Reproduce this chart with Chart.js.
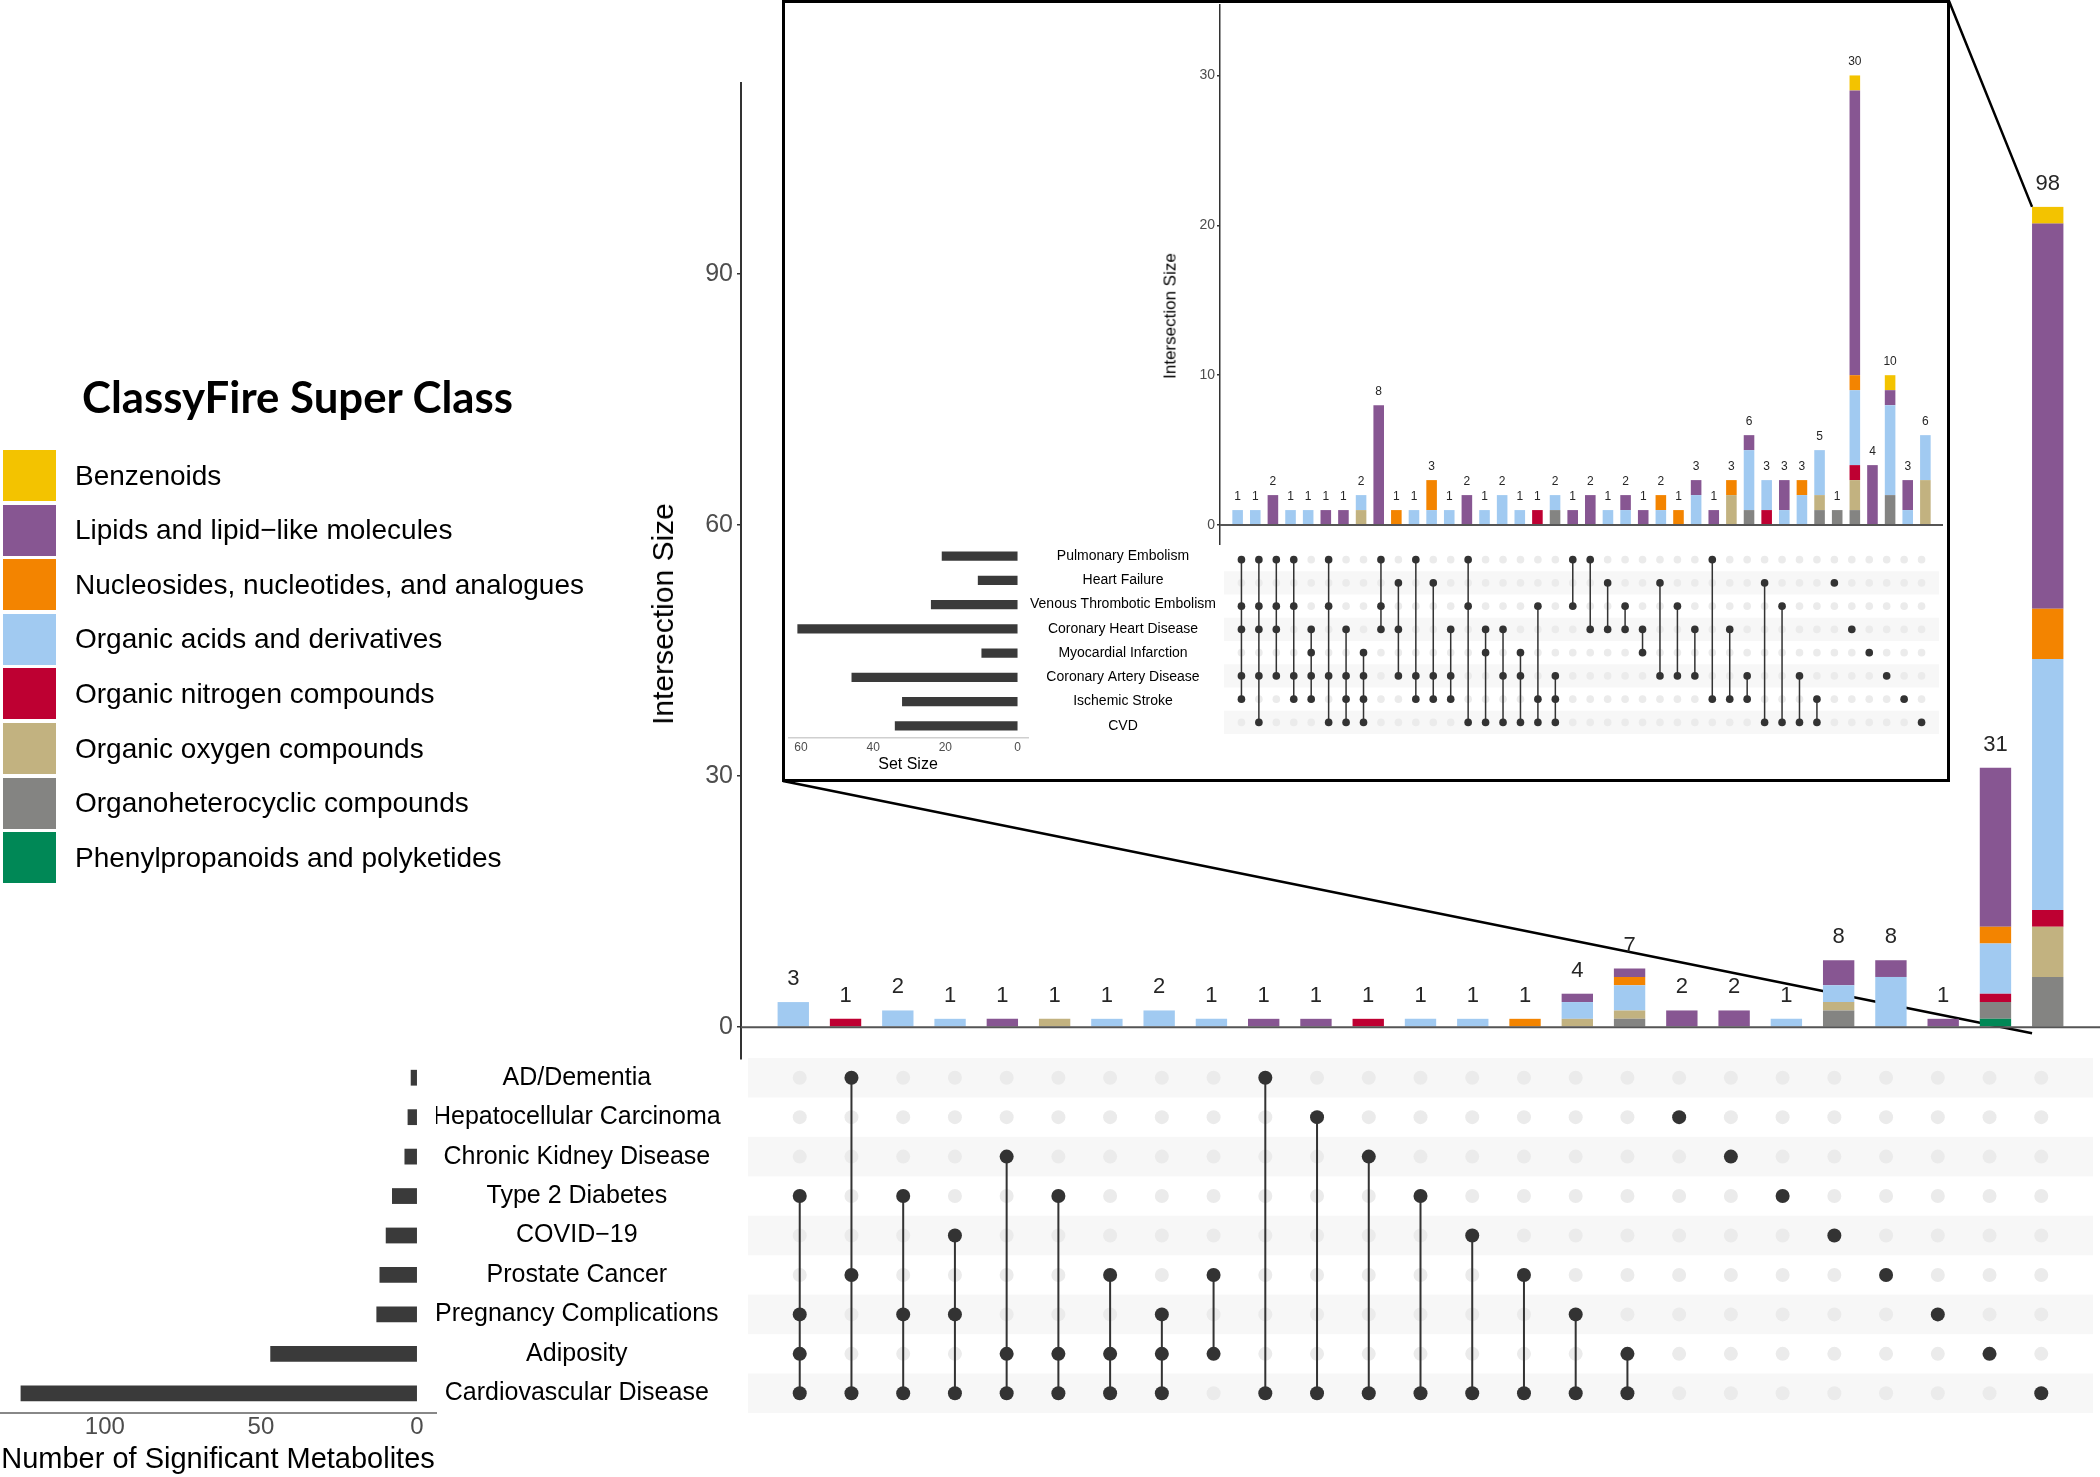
<!DOCTYPE html>
<html>
<head>
<meta charset="utf-8">
<title>Significant metabolites - UpSet</title>
<script src="https://cdn.jsdelivr.net/npm/chart.js@4.4.1/dist/chart.umd.min.js"></script>
<style>
  html, body { margin: 0; padding: 0; background: #fff; }
  body { width: 2100px; height: 1477px; position: relative; overflow: hidden; font-family: 'Liberation Sans', Arial, sans-serif; }
  canvas { position: absolute; }
  #legendTitle { position: absolute; left: 82px; top: 397px; transform: translateY(-50%); font-family: Lato, 'Liberation Sans', sans-serif; font-weight: 700; font-size: 42px; line-height: 1; white-space: nowrap; color: #000; }
  .legend-item { position: absolute; left: 3px; height: 51px; display: flex; align-items: center; }
  .swatch { width: 53px; height: 51px; flex: none; }
  .legend-item span { margin-left: 19px; font-size: 28px; color: #000; white-space: nowrap; }
  .axis-title { position: absolute; transform: translate(-50%, -50%) rotate(-90deg); white-space: nowrap; color: #000; line-height: 1; z-index: 3; }
  #insetBox { position: absolute; left: 782px; top: 0; width: 1168px; height: 782px; border: 3px solid #000; box-sizing: border-box; background: #fff; z-index: 1; }
  .inset { z-index: 2; }
</style>
</head>
<body>

<canvas id="mainBars" width="2100" height="1080" style="left:0;top:0;width:2100px;height:1080px"></canvas>
<canvas id="mainMatrix" width="1359" height="400" style="left:741px;top:1040px;width:1359px;height:400px"></canvas>
<canvas id="mainSizes" width="741" height="437" style="left:0;top:1040px;width:741px;height:437px"></canvas>

<div id="legendTitle">ClassyFire Super Class</div>
<div id="legend"></div>
<div class="axis-title" style="left:663px;top:614px;font-size:30px">Intersection Size</div>

<div id="insetBox"></div>
<canvas id="insetBars" class="inset" width="843" height="545" style="left:1100px;top:0;width:843px;height:545px"></canvas>
<canvas id="insetMatrix" class="inset" width="723" height="194" style="left:1220px;top:544px;width:723px;height:194px"></canvas>
<canvas id="insetSizes" class="inset" width="432" height="248" style="left:788px;top:530px;width:432px;height:248px"></canvas>
<div class="axis-title" style="left:1170px;top:316px;font-size:17px">Intersection Size</div>

<script>
// Super classes, bottom of the stack first
const classNames = [
  'Phenylpropanoids and polyketides',
  'Organoheterocyclic compounds',
  'Organic oxygen compounds',
  'Organic nitrogen compounds',
  'Organic acids and derivatives',
  'Nucleosides, nucleotides, and analogues',
  'Lipids and lipid\u2212like molecules',
  'Benzenoids'
];
const classColors = ['#008856', '#848482', '#C2B280', '#BE0032', '#A1CAF1', '#F38400', '#875692', '#F3C300'];

// Main plot: 25 intersections, metabolite counts per super class
const mainPhenyl   = [0,0,0,0,0,0,0,0,0,0,0,0,0,0,0,0,0,0,0,0,0,0,0,1,0];
const mainHetero   = [0,0,0,0,0,0,0,0,0,0,0,0,0,0,0,0,1,0,0,0,2,0,0,2,6];
const mainOxygen   = [0,0,0,0,0,1,0,0,0,0,0,0,0,0,0,1,1,0,0,0,1,0,0,0,6];
const mainNitrogen = [0,1,0,0,0,0,0,0,0,0,0,1,0,0,0,0,0,0,0,0,0,0,0,1,2];
const mainAcids    = [3,0,2,1,0,0,1,2,1,0,0,0,1,1,0,2,3,0,0,1,2,6,0,6,30];
const mainNucleo   = [0,0,0,0,0,0,0,0,0,0,0,0,0,0,1,0,1,0,0,0,0,0,0,2,6];
const mainLipids   = [0,0,0,0,1,0,0,0,0,1,1,0,0,0,0,1,1,2,2,0,3,2,1,19,46];
const mainBenz     = [0,0,0,0,0,0,0,0,0,0,0,0,0,0,0,0,0,0,0,0,0,0,0,0,2];

const mainSets = ['AD/Dementia', 'Hepatocellular Carcinoma', 'Chronic Kidney Disease', 'Type 2 Diabetes',
  'COVID\u221219', 'Prostate Cancer', 'Pregnancy Complications', 'Adiposity', 'Cardiovascular Disease'];
const mainSetSizes = [2, 3, 4, 8, 10, 12, 13, 47, 127];
// which sets (row index) take part in each intersection
const mainMembers = [
  [3,6,7,8], [0,5,8], [3,6,8], [4,6,8], [2,7,8], [3,7,8], [5,7,8], [6,7,8], [5,7],
  [0,8], [1,8], [2,8], [3,8], [4,8], [5,8], [6,8], [7,8],
  [1], [2], [3], [4], [5], [6], [7], [8]
];
const mainYTicks = [0, 30, 60, 90];
const mainSizeTicks = [0, 50, 100];

// Inset: cardiovascular sub-outcomes, 40 intersections
const insetPhenyl   = [0,0,0,0,0,0,0,0,0,0, 0,0,0,0,0,0,0,0,0,0, 0,0,0,0,0,0,0,0,0,0, 0,0,0,0,0,0,0,0,0,0];
const insetHetero   = [0,0,0,0,0,0,0,0,0,0, 0,0,0,0,0,0,0,0,1,0, 0,0,0,0,0,0,0,0,0,1, 0,0,0,1,1,1,0,2,0,0];
const insetOxygen   = [0,0,0,0,0,0,0,1,0,0, 0,0,0,0,0,0,0,0,0,0, 0,0,0,0,0,0,0,0,2,0, 0,0,0,1,0,2,0,0,0,3];
const insetNitrogen = [0,0,0,0,0,0,0,0,0,0, 0,0,0,0,0,0,0,1,0,0, 0,0,0,0,0,0,0,0,0,0, 1,0,0,0,0,1,0,0,0,0];
const insetAcids    = [1,1,0,1,1,0,0,1,0,0, 1,1,1,0,1,2,1,0,1,0, 0,1,1,0,1,0,2,0,0,4, 2,1,2,3,0,5,0,6,1,3];
const insetNucleo   = [0,0,0,0,0,0,0,0,0,1, 0,2,0,0,0,0,0,0,0,0, 0,0,0,0,1,1,0,0,1,0, 0,0,1,0,0,1,0,0,0,0];
const insetLipids   = [0,0,2,0,0,1,1,0,8,0, 0,0,0,2,0,0,0,0,0,1, 2,0,1,1,0,0,1,1,0,1, 0,2,0,0,0,19,4,1,2,0];
const insetBenz     = [0,0,0,0,0,0,0,0,0,0, 0,0,0,0,0,0,0,0,0,0, 0,0,0,0,0,0,0,0,0,0, 0,0,0,0,0,1,0,1,0,0];

const insetSets = ['Pulmonary Embolism', 'Heart Failure', 'Venous Thrombotic Embolism', 'Coronary Heart Disease',
  'Myocardial Infarction', 'Coronary Artery Disease', 'Ischemic Stroke', 'CVD'];
const insetSetSizes = [21, 11, 24, 61, 10, 46, 32, 34];
const insetMembers = [
  [0,2,3,5,6], [0,2,3,5,7], [0,2,3,5], [0,2,5,6], [3,4,5,6], [0,2,5,7], [3,5,6,7], [4,5,6,7],
  [0,2,3], [1,3,5], [0,5,6], [1,5,6], [3,5,6], [0,2,7], [3,4,7], [3,5,7], [4,5,7], [2,6,7], [5,6,7],
  [0,2], [0,3], [1,3], [2,3], [3,4], [1,5], [2,5], [3,5], [0,6], [3,6], [5,6], [1,7], [2,7], [5,7], [6,7],
  [1], [3], [4], [5], [6], [7]
];
const insetYTicks = [0, 10, 20, 30];
const insetSizeTicks = [0, 20, 40, 60];

Chart.defaults.font.family = "'Liberation Sans', Arial, Helvetica, sans-serif";
Chart.defaults.color = '#4d4d4d';
const FONT = "'Liberation Sans', Arial, Helvetica, sans-serif";

// Legend (top of the stack first)
const legend = document.getElementById('legend');
for (let k = classNames.length - 1, row = 0; k >= 0; k--, row++) {
  const item = document.createElement('div');
  item.className = 'legend-item';
  item.style.top = (450 + row * 54.6) + 'px';
  item.innerHTML = '<div class="swatch" style="background:' + classColors[k] + '"></div><span>' + classNames[k] + '</span>';
  legend.appendChild(item);
}
// fit the legend title to its width in the figure
const lt = document.getElementById('legendTitle');
lt.style.fontSize = (42 * 431 / lt.getBoundingClientRect().width) + 'px';

function totals(series) {
  return series[0].map((_, i) => series.reduce((s, vals) => s + vals[i], 0));
}

function stackedDatasets(series) {
  return series.map((values, k) => ({
    label: classNames[k],
    data: values.map((v, i) => ({ x: i, y: v })),
    backgroundColor: classColors[k],
    borderWidth: 0,
    barPercentage: 0.6,
    categoryPercentage: 1
  }));
}

// scale sizes are fixed so the three panels line up
function fixWidth(w) {
  return s => { s.width = w; s.paddingTop = s.paddingBottom = s.paddingLeft = s.paddingRight = 0; };
}
function fixHeight(h) {
  return s => { s.height = h; s.paddingTop = s.paddingBottom = s.paddingLeft = s.paddingRight = 0; };
}
function setTicks(list) {
  return s => { s.ticks = list.map(v => ({ value: v })); };
}

function zeroLine(color, width) {
  return {
    id: 'zeroLine',
    afterDatasetsDraw(chart) {
      const { ctx, chartArea: a, scales: { y } } = chart;
      const y0 = y.getPixelForValue(0);
      ctx.save();
      ctx.strokeStyle = color;
      ctx.lineWidth = width;
      ctx.beginPath();
      ctx.moveTo(a.left, y0);
      ctx.lineTo(a.right, y0);
      ctx.stroke();
      ctx.restore();
    }
  };
}

function countLabels(sums, size, gap) {
  return {
    id: 'countLabels',
    afterDatasetsDraw(chart) {
      const { ctx, scales: { x, y } } = chart;
      ctx.save();
      ctx.font = size + 'px ' + FONT;
      ctx.fillStyle = '#262626';
      ctx.textAlign = 'center';
      ctx.textBaseline = 'alphabetic';
      sums.forEach((t, i) => ctx.fillText(String(t), x.getPixelForValue(i), y.getPixelForValue(t) - gap));
      ctx.restore();
    }
  };
}

function barChart(id, series, sums, cfg) {
  return new Chart(document.getElementById(id), {
    type: 'bar',
    data: { datasets: stackedDatasets(series) },
    options: {
      responsive: false, animation: false, events: [],
      layout: { padding: cfg.padding },
      plugins: { legend: { display: false }, tooltip: { enabled: false } },
      scales: {
        x: { type: 'linear', min: -1, max: sums.length, offset: false, stacked: true, display: false },
        y: {
          stacked: true, min: cfg.yMin, max: cfg.yMax,
          afterFit: fixWidth(cfg.axisWidth),
          afterBuildTicks: setTicks(cfg.ticks),
          grid: { drawOnChartArea: false, tickLength: cfg.tickLength, color: '#333', lineWidth: 1.5 },
          border: { color: '#333', width: cfg.axisLine },
          ticks: { padding: cfg.tickPadding, color: '#4d4d4d', font: { size: cfg.tickFont } }
        }
      }
    },
    plugins: (cfg.extra || []).concat([zeroLine('#555', 2), countLabels(sums, cfg.labelFont, cfg.labelGap)])
  });
}

function matrixChart(id, nCols, nRows, members, shaded, dotR, lineW, pad) {
  // dark dots and connecting lines, one dataset per intersection
  const datasets = members.map((rows, c) => ({
    data: rows.map(r => ({ x: c, y: r })),
    showLine: true, borderColor: '#333', borderWidth: lineW,
    pointRadius: dotR, pointBackgroundColor: '#333', pointBorderWidth: 0
  }));
  // light dots for every cell; the last dataset is painted first (underneath)
  const cells = [];
  for (let c = 0; c < nCols; c++) for (let r = 0; r < nRows; r++) cells.push({ x: c, y: r });
  datasets.push({ data: cells, showLine: false, pointRadius: dotR, pointBackgroundColor: '#ebebeb', pointBorderWidth: 0 });
  return new Chart(document.getElementById(id), {
    type: 'scatter',
    data: { datasets },
    options: {
      responsive: false, animation: false, events: [],
      layout: { padding: pad },
      plugins: { legend: { display: false }, tooltip: { enabled: false } },
      scales: {
        x: { type: 'linear', min: -1, max: nCols, display: false },
        y: { type: 'linear', min: -0.5, max: nRows - 0.5, reverse: true, display: false }
      }
    },
    plugins: [{
      id: 'bands',
      beforeDatasetsDraw(chart) {
        const { ctx, chartArea: a, scales: { y } } = chart;
        ctx.save();
        ctx.fillStyle = '#f7f7f7';
        shaded.forEach(r => {
          const top = y.getPixelForValue(r - 0.5), bottom = y.getPixelForValue(r + 0.5);
          ctx.fillRect(a.left, top, a.right - a.left, bottom - top);
        });
        ctx.restore();
      }
    }]
  });
}

function setSizeChart(id, names, sizes, cfg) {
  return new Chart(document.getElementById(id), {
    type: 'bar',
    data: {
      labels: names,
      datasets: [{ data: sizes, backgroundColor: '#3a3a3a', borderWidth: 0, barPercentage: cfg.barPct, categoryPercentage: 1 }]
    },
    options: {
      indexAxis: 'y',
      responsive: false, animation: false, events: [],
      layout: { padding: { top: cfg.top, left: 0, right: 0, bottom: 0 } },
      plugins: { legend: { display: false }, tooltip: { enabled: false } },
      scales: {
        x: {
          reverse: true, min: cfg.xMin, max: cfg.xMax,
          afterFit: fixHeight(cfg.axisHeight),
          afterBuildTicks: setTicks(cfg.ticks),
          grid: { display: false, drawTicks: false },
          border: { color: cfg.lineColor, width: cfg.lineWidth },
          ticks: { padding: cfg.tickPadding, color: '#4d4d4d', font: { size: cfg.tickFont } },
          title: { display: true, text: cfg.title, color: '#000', font: { size: cfg.titleFont }, padding: { top: 0, bottom: cfg.titlePad } }
        },
        y: {
          position: 'right',
          afterFit: fixWidth(cfg.labelWidth),
          grid: { display: false, drawTicks: false },
          border: { display: false },
          ticks: { crossAlign: 'center', padding: cfg.labelPad, color: '#000', font: { size: cfg.labelFont } }
        }
      }
    }
  });
}

// connector lines from the inset frame to the CVD bar
const mainSeries = [mainPhenyl, mainHetero, mainOxygen, mainNitrogen, mainAcids, mainNucleo, mainLipids, mainBenz];
const mainTotals = totals(mainSeries);
const zoomLines = {
  id: 'zoomLines',
  beforeDatasetsDraw(chart) {
    const { ctx, scales: { x, y } } = chart;
    const box = document.getElementById('insetBox').getBoundingClientRect();
    const last = mainTotals.length - 1;
    const bx = x.getPixelForValue(last) - (x.getPixelForValue(1) - x.getPixelForValue(0)) * 0.3;
    ctx.save();
    ctx.strokeStyle = '#000';
    ctx.lineWidth = 2.5;
    ctx.beginPath();
    ctx.moveTo(box.right - 1, box.top + 1);
    ctx.lineTo(bx, y.getPixelForValue(mainTotals[last]));
    ctx.moveTo(box.left + 1, box.bottom - 1);
    ctx.lineTo(bx, y.getPixelForValue(0) + 6);
    ctx.stroke();
    ctx.restore();
  }
};

barChart('mainBars', mainSeries, mainTotals, {
  padding: { left: 641, top: 83, right: 0, bottom: 21 },
  yMin: -3.8, yMax: 112.8, axisWidth: 100, ticks: mainYTicks,
  tickLength: 4, tickPadding: 4, tickFont: 25, axisLine: 2,
  labelFont: 22, labelGap: 17, extra: [zoomLines]
});
matrixChart('mainMatrix', mainMembers.length, mainSets.length, mainMembers, [0, 2, 4, 6, 8], 7, 2,
  { top: 18, bottom: 27, left: 0, right: 0 });
setSizeChart('mainSizes', mainSets, mainSetSizes, {
  top: 18, xMin: -6.1, xMax: 133.6, ticks: mainSizeTicks, axisHeight: 64,
  lineColor: '#888', lineWidth: 2, tickPadding: 0, tickFont: 24,
  title: 'Number of Significant Metabolites', titleFont: 29, titlePad: 0,
  labelWidth: 305, labelPad: -3, labelFont: 25, barPct: 0.4
});

const insetSeries = [insetPhenyl, insetHetero, insetOxygen, insetNitrogen, insetAcids, insetNucleo, insetLipids, insetBenz];
barChart('insetBars', insetSeries, totals(insetSeries), {
  padding: { left: 80, top: 5, right: 0, bottom: 0 },
  yMin: -1.33, yMax: 34.7, axisWidth: 40, ticks: insetYTicks,
  tickLength: 3, tickPadding: 2, tickFont: 14, axisLine: 1.5,
  labelFont: 12, labelGap: 10
});
matrixChart('insetMatrix', insetMembers.length, insetSets.length, insetMembers, [1, 3, 5, 7], 3.8, 1.5, 0);
setSizeChart('insetSizes', insetSets, insetSetSizes, {
  top: 14, xMin: -2.9, xMax: 63.6, ticks: insetSizeTicks, axisHeight: 40,
  lineColor: '#cfcfcf', lineWidth: 1.5, tickPadding: 2, tickFont: 12,
  title: 'Set Size', titleFont: 16, titlePad: 4,
  labelWidth: 192, labelPad: 2, labelFont: 14, barPct: 0.38
});
</script>
</body>
</html>
